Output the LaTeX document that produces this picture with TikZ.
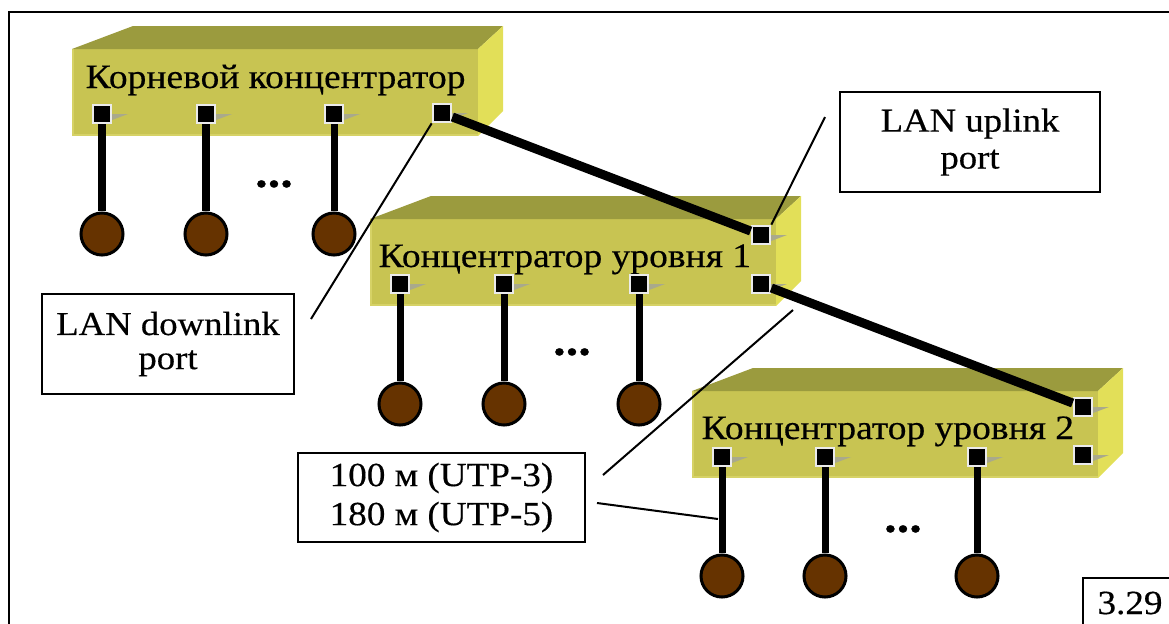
\documentclass[tikz,border=0pt]{standalone}
\usepackage{fontspec}
\setmainfont{Liberation Serif}[FakeStretch=1.1, FakeBold=0.4]

\definecolor{hubfront}{HTML}{C8C452}
\definecolor{hubtop}{HTML}{9B9B3E}
\definecolor{hubside}{HTML}{E2DF58}
\definecolor{hubrim}{HTML}{D6D266}
\definecolor{wedge}{HTML}{A9A98C}
\definecolor{termfill}{HTML}{663300}

% one network hub: front, top and right faces of a box
\tikzset{
  hub/.pic={
    \fill[hubfront] (0,0) rectangle (406,87);
    \draw[hubrim, line width=0.02cm] (1,0) -- (1,86) -- (406,86);
    \fill[hubtop] (0,0) -- (61,-23) -- (431,-23) -- (406,0) -- cycle;
    \fill[hubside] (406,0) -- (431,-23) -- (431,62) -- (406,87) -- cycle;
  },
  port/.style={rectangle, fill=black, draw=white!92!black, line width=0.022cm,
    minimum size=0.185cm, inner sep=0pt},
  term/.style={circle, fill=termfill, draw=black, line width=0.03cm,
    minimum size=0.42cm, inner sep=0pt},
  drop/.style={line width=0.07cm},
  link/.style={line width=0.09cm},
  hublabel/.style={anchor=base west, inner sep=0pt,
    font=\fontsize{9.7pt}{11pt}\selectfont},
  dotsnode/.style={anchor=base, inner sep=0pt,
    font=\fontsize{13pt}{14pt}\selectfont\bfseries},
  callout/.style={draw, line width=0.02cm, align=center, inner sep=0pt},
  leader/.style={line width=0.02cm},
}

% port square with its small grey wedge
\newcommand\hubport[3]{%
  \fill[wedge] (#2+10,#3) -- (#2+26,#3) -- (#2+10,#3+6) -- cycle;
  \node[port] (#1) at (#2,#3) {};
}

\begin{document}
\begin{tikzpicture}[x=0.01cm, y=-0.01cm]
\useasboundingbox (0,0) rectangle (1169,624);

% outer frame
\draw[line width=0.02cm] (9,624) -- (9,12) -- (1169,12);

% hub bodies
\pic at (72,49) {hub};
\pic at (370,219) {hub};
\pic at (692,391) {hub};

% hub names
\node[hublabel] (rootname) at (85,88) {Корневой концентратор};
\node[hublabel] (onename) at (378,267) {Концентратор уровня 1};
\node[hublabel] (twoname) at (701,439) {Концентратор уровня 2};

% ports
\hubport{r1}{102}{114}
\hubport{r2}{206}{114}
\hubport{r3}{334}{114}
\hubport{r4}{442}{113}
\hubport{a1}{400}{284}
\hubport{a2}{504}{284}
\hubport{a3}{639}{284}
\hubport{aup}{761}{235}
\hubport{adn}{761}{284}
\hubport{b1}{722}{457}
\hubport{b2}{825}{457}
\hubport{b3}{977}{457}
\hubport{bup}{1083}{407}
\hubport{bdn}{1083}{455}

% end stations
\node[term] (rc1) at (102,234) {};
\node[term] (rc2) at (206,234) {};
\node[term] (rc3) at (334,234) {};
\node[term] (ac1) at (400,404) {};
\node[term] (ac2) at (504,404) {};
\node[term] (ac3) at (639,404) {};
\node[term] (bc1) at (722,576) {};
\node[term] (bc2) at (825,576) {};
\node[term] (bc3) at (977,576) {};

\foreach \p/\c in {r1/rc1, r2/rc2, r3/rc3, a1/ac1, a2/ac2, a3/ac3, b1/bc1, b2/bc2, b3/bc3}
  \draw[drop] (\p.south) -- (\c.north);

\node[dotsnode] (rdots) at (274,187) {...};
\node[dotsnode] (adots) at (572,355) {...};
\node[dotsnode] (bdots) at (903,532) {...};

% uplinks between hubs
\draw[link] (r4) -- (aup);
\draw[link] (adn) -- (bup);

% callouts
\node[callout, minimum width=2.6cm, minimum height=1.0cm,
  font=\fontsize{9.5pt}{10.5pt}\selectfont] (upbox) at (970,142) {LAN uplink\\port};
\node[callout, minimum width=2.52cm, minimum height=1.0cm,
  font=\fontsize{9.5pt}{9.7pt}\selectfont] (downbox) at (168,344) {LAN downlink\\port};
\node[callout, minimum width=2.87cm, minimum height=0.89cm,
  font=\fontsize{9.6pt}{11.1pt}\selectfont] (utpbox) at (441.5,497.5) {100 м (UTP-3)\\180 м (UTP-5)};

\coordinate (upfrom) at (825,117);
\draw[leader] (upfrom) -- (aup.north east);
\coordinate (downfrom) at (311,319);
\draw[leader] (downfrom) -- (r4.south west);
\coordinate (utpA) at (603,475);
\coordinate (utpAend) at (793,310);
\draw[leader] (utpA) -- (utpAend);
\coordinate (utpB) at (597,503);
\coordinate (utpBend) at (718,519);
\draw[leader] (utpB) -- (utpBend);

% figure number
\draw[line width=0.02cm] (1083,630) |- (1175,578);
\node[anchor=base, inner sep=0pt, font=\fontsize{9.6pt}{12pt}\selectfont] (fignum) at (1130,614) {3.29};
\end{tikzpicture}
\end{document}
